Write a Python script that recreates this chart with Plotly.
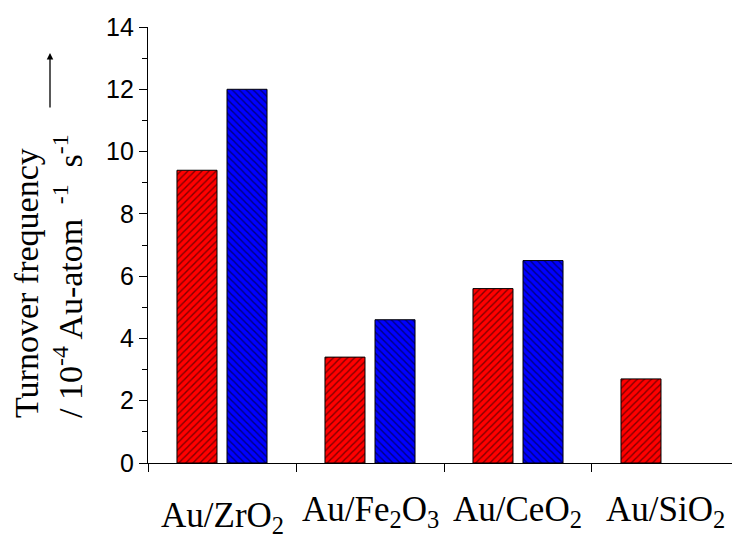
import plotly.graph_objects as go

categories = ["Au/ZrO<sub>2</sub>", "Au/Fe<sub>2</sub>O<sub>3</sub>", "Au/CeO<sub>2</sub>", "Au/SiO<sub>2</sub>"]
red_values = [9.4, 3.4, 5.6, 2.7]
blue_values = [12.0, 4.6, 6.5, None]
y_ticks = [0, 2, 4, 6, 8, 10, 12, 14]
label_shifts = [-31, -25, -25, -25]  # px shift of category labels below axis

cat_ids = [0, 1, 2, 3]

fig = go.Figure()
fig.add_trace(go.Bar(
    x=cat_ids, y=red_values, name="red",
    marker=dict(color="#FF0000", line=dict(color="black", width=1),
                pattern=dict(shape="/", fgcolor="black", bgcolor="#FF0000", size=5, solidity=0.28)),
))
fig.add_trace(go.Bar(
    x=cat_ids, y=blue_values, name="blue",
    marker=dict(color="#0000FF", line=dict(color="black", width=1),
                pattern=dict(shape="\\", fgcolor="black", bgcolor="#0000FF", size=5, solidity=0.28)),
))

annotations = []
for cid, lab, sh in zip(cat_ids, categories, label_shifts):
    annotations.append(dict(x=cid, y=0, xref="x", yref="y", text=lab, showarrow=False,
                            yanchor="top", xanchor="center", yshift=sh,
                            font=dict(family="Liberation Serif", size=35, color="black")))

annotations.append(dict(x=(26 - 148) / 584, y=(463 - 420) / 436, xref="paper", yref="paper",
                        text="Turnover frequency", textangle=-90, showarrow=False,
                        xanchor="center", yanchor="bottom",
                        font=dict(family="Liberation Serif", size=34, color="black")))
annotations.append(dict(x=(68 - 148) / 584, y=(463 - 420) / 436, xref="paper", yref="paper",
                        text="/ 10<sup>-4</sup> Au-atom <sup> -1</sup>  s<sup>-1</sup>", textangle=-90,
                        showarrow=False, xanchor="center", yanchor="bottom",
                        font=dict(family="Liberation Serif", size=34, color="black")))
annotations.append(dict(x=(50 - 148) / 584, y=(463 - 53) / 436, xref="paper", yref="paper",
                        text="", showarrow=True, ax=0, ay=56, arrowhead=2, arrowsize=1,
                        arrowwidth=1.3, arrowcolor="black"))

fig.update_layout(
    width=732, height=540,
    margin=dict(l=148, r=0, t=27, b=77),
    paper_bgcolor="white", plot_bgcolor="white",
    barmode="group", bargap=0.324, bargroupgap=0.2,
    showlegend=False,
    annotations=annotations,
    xaxis=dict(range=[-0.5, 3.446], tickmode="array", tickvals=[-0.5, 0.5, 1.5, 2.5],
               showticklabels=False, ticks="outside", ticklen=8, tickwidth=1.3,
               tickcolor="black", showline=True, linecolor="black", linewidth=1.3,
               showgrid=False, zeroline=False),
    yaxis=dict(range=[0, 14], tickmode="array", tickvals=y_ticks,
               ticktext=[str(v) for v in y_ticks], ticks="outside", ticklen=8, tickwidth=1.3,
               tickcolor="black", showline=True, linecolor="black", linewidth=1.3,
               showgrid=False, zeroline=False,
               minor=dict(dtick=1, ticks="outside", ticklen=5, tickwidth=1.3, tickcolor="black"),
               tickfont=dict(family="Liberation Sans", size=25, color="black")),
)

fig.write_html("out.html", config={"displayModeBar": False},
               post_script="document.body.style.margin='0px';")
